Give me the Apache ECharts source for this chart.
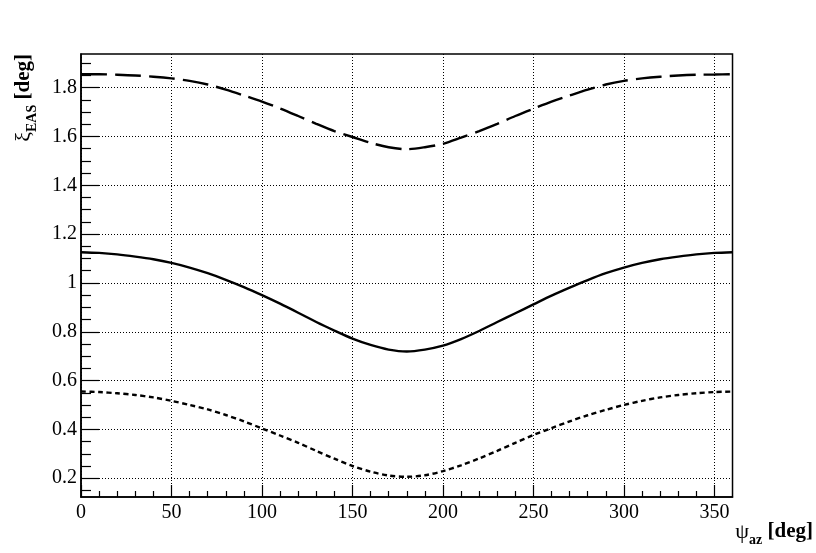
<!DOCTYPE html>
<html>
<head>
<meta charset="utf-8">
<script src="https://cdn.jsdelivr.net/npm/echarts@6/dist/echarts.min.js"></script>
<style>html,body{margin:0;padding:0;background:#fff}#c{width:816px;height:553px}</style>
</head>
<body>
<div id="c"></div>
<script>
const psi = [0,10,20,30,40,50,60,70,80,90,100,110,120,130,140,150,160,170,180,190,200,210,220,230,240,250,260,270,280,290,300,310,320,330,340,350,360];
const xiDashed = [1.855,1.855,1.853,1.850,1.845,1.838,1.828,1.813,1.792,1.768,1.743,1.715,1.684,1.652,1.622,1.598,1.574,1.556,1.548,1.556,1.570,1.595,1.622,1.652,1.684,1.714,1.743,1.768,1.792,1.813,1.828,1.838,1.845,1.850,1.853,1.854,1.855];
const xiSolid = [1.126,1.123,1.117,1.108,1.097,1.082,1.063,1.040,1.013,0.983,0.950,0.915,0.878,0.840,0.805,0.772,0.746,0.727,0.719,0.727,0.743,0.770,0.803,0.840,0.876,0.912,0.948,0.981,1.012,1.040,1.063,1.082,1.097,1.108,1.117,1.123,1.126];
const xiDotted = [0.555,0.553,0.548,0.541,0.531,0.517,0.500,0.482,0.459,0.433,0.404,0.375,0.345,0.312,0.280,0.250,0.227,0.211,0.206,0.212,0.229,0.253,0.281,0.312,0.345,0.377,0.405,0.433,0.458,0.480,0.500,0.517,0.531,0.541,0.548,0.553,0.555];
const yMajor = [0.2,0.4,0.6,0.8,1,1.2,1.4,1.6,1.8];
const yMinor = [0.15,0.25,0.3,0.35,0.45,0.5,0.55,0.65,0.7,0.75,0.85,0.9,0.95,1.05,1.1,1.15,1.25,1.3,1.35,1.45,1.5,1.55,1.65,1.7,1.75,1.85,1.9];
const xMajor = [0,50,100,150,200,250,300,350];
const xMinor = [10,20,30,40,60,70,80,90,110,120,130,140,160,170,180,190,210,220,230,240,260,270,280,290,310,320,330,340];
const yRange = [0.123, 1.938];
const xRange = [0, 360];

const pair = (xs, ys) => xs.map((x, i) => [x, ys[i]]);
const FONT = 'Liberation Serif';
const grid = {left: 81, top: 54, right: 82, bottom: 56, show: true, borderColor: '#000', borderWidth: 1.5, backgroundColor: 'transparent'};
const dotted = {show: true, lineStyle: {color: '#000', width: 1, type: [1, 2]}};

const chart = echarts.init(document.getElementById('c'), null, {renderer: 'canvas'});
chart.setOption({
  animation: false,
  backgroundColor: '#fff',
  grid: grid,
  xAxis: [
    {
      type: 'value', min: xRange[0], max: xRange[1], position: 'bottom',
      axisLine: {show: true, onZero: false, lineStyle: {color: '#000', width: 1.5}},
      axisTick: {show: true, inside: true, length: 12, customValues: xMajor, lineStyle: {color: '#000', width: 1.2}},
      axisLabel: {show: true, customValues: xMajor, margin: 6, color: '#000', fontFamily: FONT, fontSize: 20},
      splitLine: dotted,
      name: '{g|ψ}{s|az}{m| [deg]}',
      nameLocation: 'end', nameGap: -2,
      nameTextStyle: {
        align: 'right', verticalAlign: 'top', padding: [20, 0, 0, 0],
        rich: {
          g: {fontFamily: FONT, fontSize: 22, color: '#000', lineHeight: 30, verticalAlign: 'middle'},
          s: {fontFamily: FONT, fontSize: 14, fontWeight: 'bold', color: '#000', lineHeight: 14, verticalAlign: 'bottom'},
          m: {fontFamily: FONT, fontSize: 21, fontWeight: 'bold', color: '#000', lineHeight: 30, verticalAlign: 'middle'}
        }
      }
    },
    {
      type: 'value', min: xRange[0], max: xRange[1], position: 'bottom',
      axisLine: {show: false, onZero: false},
      axisTick: {show: true, inside: true, length: 6, customValues: xMinor, lineStyle: {color: '#000', width: 1.2}},
      axisLabel: {show: false},
      splitLine: {show: false}
    }
  ],
  yAxis: [
    {
      type: 'value', min: yRange[0], max: yRange[1], position: 'left',
      axisLine: {show: true, onZero: false, lineStyle: {color: '#000', width: 1.5}},
      axisTick: {show: true, inside: true, length: 18, customValues: yMajor, lineStyle: {color: '#000', width: 1.2}},
      axisLabel: {show: true, customValues: yMajor, margin: 4, color: '#000', fontFamily: FONT, fontSize: 20},
      splitLine: dotted,
      name: '{g|ξ}{s|EAS}{m| [deg]}',
      nameLocation: 'end', nameGap: 0, nameRotate: 90,
      nameTextStyle: {
        align: 'right', verticalAlign: 'bottom', padding: [0, 0, 42, 0],
        rich: {
          g: {fontFamily: FONT, fontSize: 22, color: '#000', lineHeight: 30, verticalAlign: 'middle'},
          s: {fontFamily: FONT, fontSize: 14, fontWeight: 'bold', color: '#000', lineHeight: 14, verticalAlign: 'bottom'},
          m: {fontFamily: FONT, fontSize: 21, fontWeight: 'bold', color: '#000', lineHeight: 30, verticalAlign: 'middle'}
        }
      }
    },
    {
      type: 'value', min: yRange[0], max: yRange[1], position: 'left',
      axisLine: {show: false, onZero: false},
      axisTick: {show: true, inside: true, length: 10, customValues: yMinor, lineStyle: {color: '#000', width: 1.2}},
      axisLabel: {show: false},
      splitLine: {show: false}
    }
  ],
  series: [
    {type: 'line', name: 'dashed', data: pair(psi, xiDashed), showSymbol: false, smooth: 0.3, xAxisIndex: 0, yAxisIndex: 0,
      lineStyle: {color: '#000', width: 2.4, type: [26, 8]}},
    {type: 'line', name: 'solid', data: pair(psi, xiSolid), showSymbol: false, smooth: 0.3, xAxisIndex: 0, yAxisIndex: 0,
      lineStyle: {color: '#000', width: 2.4, type: 'solid'}},
    {type: 'line', name: 'dotted', data: pair(psi, xiDotted), showSymbol: false, smooth: 0.3, xAxisIndex: 0, yAxisIndex: 0,
      lineStyle: {color: '#000', width: 2.4, type: [5, 3.5]}}
  ]
});
</script>
</body>
</html>
